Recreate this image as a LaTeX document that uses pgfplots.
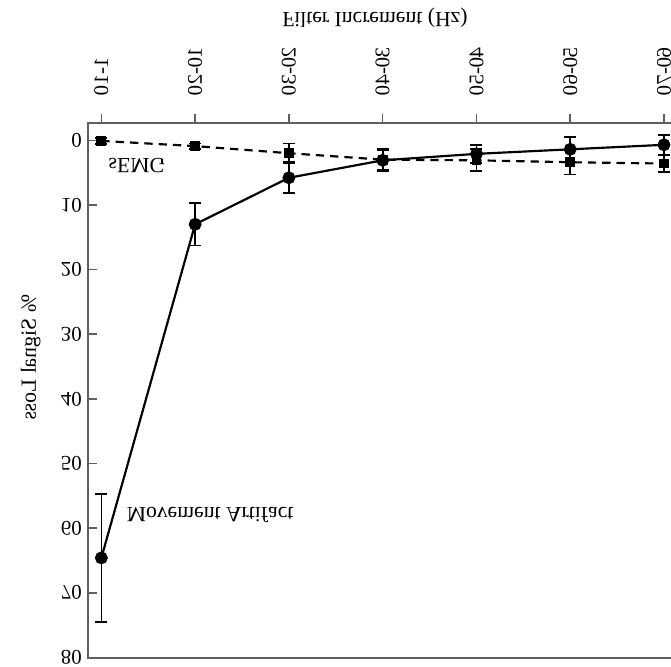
\documentclass[border=0pt]{standalone}
\usepackage{fontspec}
\setmainfont{Liberation Serif}
\usepackage{pgfplots}
\pgfplotsset{compat=1.18}
\definecolor{axisgray}{RGB}{95,95,95}

% the reference is a vertically mirrored scan: y runs downward, text is flipped
\tikzset{flipv/.style={yscale=-1}, fliprot/.style={cm={0,-1,-1,0,(0,0)}}}

\begin{document}
\begin{tikzpicture}
\begin{axis}[
    scale only axis,
    width=362.8pt, height=321pt,
    xmin=0.854, xmax=7.3,
    ymin=-2.63, ymax=80.1,
    y dir=reverse,
    axis line style={axisgray, line width=1.1pt},
    font=\fontsize{12.5}{14}\selectfont,
    /pgf/number format/assume math mode=true,
    xtick={1,2,3,4,5,6,7},
    xticklabels={1-10,10-20,20-30,30-40,40-50,50-60,60-70},
    xtick pos=upper, xticklabel pos=upper,
    ytick={0,10,...,80},
    ytick pos=left,
    tick align=inside,
    major tick length=5.5pt,
    tick style={axisgray, line width=0.9pt},
    xtick style={yshift=5.5pt},
    xticklabel style={fliprot, anchor=east},
    xticklabel shift=13pt,
    yticklabel style={flipv, anchor=east},
    every axis x label/.style={at={(axis cs:3.917,-18.9)}, anchor=center, flipv,
        font=\fontsize{13}{15}\selectfont},
    xlabel={Filter Increment (Hz)},
    clip=false,
]
% sEMG
\addplot[black, line width=1.3pt, dash pattern=on 5pt off 3.6pt,
    mark=square*, mark size=2.3pt, mark options={solid},
    error bars/.cd, y dir=both, y explicit,
    error bar style={solid, line width=1pt},
    error mark options={rotate=90, mark size=3.6pt, line width=1pt}]
    coordinates {
    (1,0.1) +- (0,0.5)
    (2,0.9) +- (0,0.4)
    (3,2.0) +- (0,1.5)
    (4,3.0) +- (0,1.5)
    (5,3.1) +- (0,1.7)
    (6,3.4) +- (0,1.9)
    (7,3.6) +- (0,1.3)
    };
% Movement Artifact
\addplot[black, line width=1.3pt,
    mark=*, mark size=3.2pt,
    error bars/.cd, y dir=both, y explicit,
    error bar style={line width=1pt},
    error mark options={rotate=90, mark size=3.6pt, line width=1pt}]
    coordinates {
    (1,64.6) +- (0,9.9)
    (2,13.0) +- (0,3.3)
    (3,5.8) +- (0,2.4)
    (4,3.1) +- (0,1.7)
    (5,2.1) +- (0,1.4)
    (6,1.4) +- (0,1.9)
    (7,0.7) +- (0,1.5)
    };
\node[font=\fontsize{13}{15}\selectfont] at (axis cs:0.246,33.6)
    {\scalebox{1}[-1]{\rotatebox{90}{\% Signal Loss}}};
\node[flipv, font=\fontsize{13}{15}\selectfont] at (axis cs:1.38,3.9) {sEMG};
\node[flipv, font=\fontsize{13}{15}\selectfont] at (axis cs:2.16,57.9) {Movement Artifact};
\coordinate (BL) at (axis cs:-0.081,81.4);
\coordinate (TR) at (axis cs:7.075,-21.7);
\end{axis}
\pgfresetboundingbox
\useasboundingbox (BL) rectangle (TR);
\end{tikzpicture}
\end{document}
